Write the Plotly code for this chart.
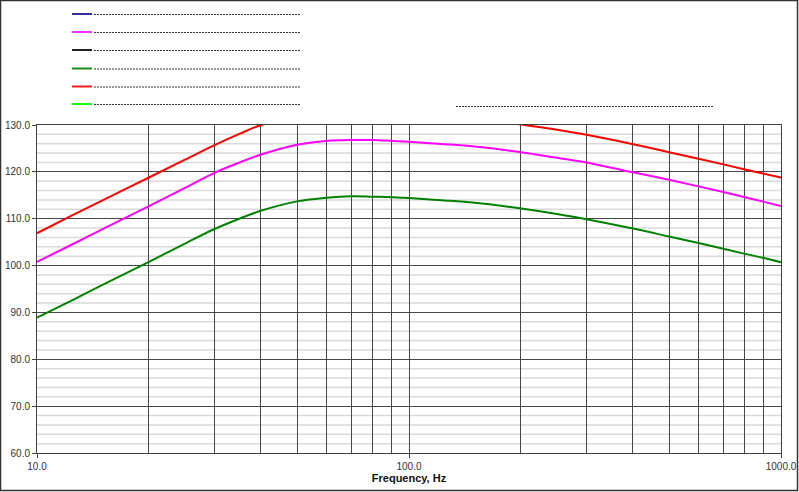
import plotly.graph_objects as go

# ---- data ----
freq_hz = [10, 12.5, 15, 20, 25, 30, 35, 40, 50, 60, 70, 80, 90, 100, 125, 150,
           200, 250, 300, 400, 500, 600, 700, 800, 900, 1000]
spl_red = [106.9, 110.8, 113.9, 118.8, 122.6, 125.7, 128.1, 130.0, 131.9, 132.7, 132.9,
           132.9, 132.7, 132.5, 132.0, 131.5, 130.1, 129.0, 127.9, 125.9, 124.2,
           122.8, 121.6, 120.5, 119.6, 118.8]
spl_magenta = [100.8, 104.6, 107.8, 112.7, 116.6, 119.8, 122.0, 123.7, 125.8, 126.6, 126.8,
               126.8, 126.6, 126.4, 125.9, 125.4, 124.2, 123.0, 122.0, 119.9, 118.3,
               116.9, 115.7, 114.6, 113.6, 112.7]
spl_green = [88.9, 92.7, 95.9, 100.8, 104.7, 107.8, 110.0, 111.7, 113.7, 114.5, 114.8,
             114.7, 114.6, 114.4, 113.9, 113.4, 112.2, 111.0, 109.9, 107.9, 106.2,
             104.8, 103.6, 102.5, 101.6, 100.7]

x_major_ticks = [10, 100, 1000]
x_major_labels = ["10.0", "100.0", "1000.0"]
x_grid_vals = [20, 30, 40, 50, 60, 70, 80, 90, 100, 200, 300, 400, 500, 600, 700, 800, 900]
y_range = [60, 130]
y_minor_vals = [v for v in range(62, 130, 2) if v % 10]
legend_colors = ["#2E3192", "#FF33FF", "#222222", "#1A8A1A", "#FF1A1A", "#1AFF1A"]

# ---- layout constants ----
W, H = 799, 492
ML, MR, MT, MB = 37, 18, 125, 39
PW, PH = W - ML - MR, H - MT - MB
GRID = "#474747"

def px_x(p):  # pixel -> paper x
    return (p - ML) / PW

def px_y(p):  # pixel -> paper y
    return 1 - (p - MT) / PH

fig = go.Figure()
for ys, col in [(spl_red, "#FF0000"), (spl_magenta, "#FF00FF"), (spl_green, "#008000")]:
    fig.add_trace(go.Scatter(x=freq_hz, y=ys, mode="lines",
                             line=dict(color=col, width=2, shape="spline", smoothing=1),
                             showlegend=False, hoverinfo="skip"))

shapes = []
# light horizontal minor grid, below the main grid lines
for v in y_minor_vals:
    shapes.append(dict(type="line", xref="paper", yref="y", x0=0, x1=1, y0=v, y1=v,
                       line=dict(color="#d9d9d9", width=1.5), layer="below"))
# legend-like decorations
leg_y = [14, 32, 50, 68.5, 86.5, 104]
for c, yy in zip(legend_colors, leg_y):
    shapes.append(dict(type="line", xref="paper", yref="paper",
                       x0=px_x(72), x1=px_x(92), y0=px_y(yy), y1=px_y(yy),
                       line=dict(color=c, width=2)))
    shapes.append(dict(type="line", xref="paper", yref="paper",
                       x0=px_x(94), x1=px_x(300), y0=px_y(yy + 0.5), y1=px_y(yy + 0.5),
                       line=dict(color="#333333", width=1, dash="2px,1px")))
shapes.append(dict(type="line", xref="paper", yref="paper",
                   x0=px_x(456), x1=px_x(714), y0=px_y(106.5), y1=px_y(106.5),
                   line=dict(color="#333333", width=1, dash="2px,1px")))
# outer frame
shapes.append(dict(type="rect", xref="paper", yref="paper",
                   x0=px_x(0.5), x1=px_x(797.5), y0=px_y(0.5), y1=px_y(490.5),
                   line=dict(color="#333333", width=1.5), layer="below"))

fig.update_layout(
    width=W, height=H,
    margin=dict(l=ML, r=MR, t=MT, b=MB, pad=0, autoexpand=False),
    paper_bgcolor="white", plot_bgcolor="rgba(0,0,0,0)",
    font=dict(family="Liberation Sans, Arial, sans-serif", size=10, color="#333333"),
    shapes=shapes,
    xaxis=dict(type="log", range=[1, 3], automargin=False,
               tickmode="array", tickvals=x_major_ticks, ticktext=x_major_labels,
               ticks="outside", ticklen=4, tickcolor="#404040",
               showgrid=True, gridcolor=GRID, gridwidth=1,
               minor=dict(tickmode="array", tickvals=x_grid_vals, showgrid=True,
                          gridcolor=GRID, gridwidth=1, ticks=""),
               showline=True, linecolor="#404040", linewidth=1, mirror=True,
               zeroline=False,
               title=dict(text="<b>Frequency, Hz</b>", standoff=3,
                          font=dict(size=11, color="#111111")),
               tickfont=dict(size=10, color="#333333")),
    yaxis=dict(range=y_range, automargin=False,
               tickmode="linear", tick0=60, dtick=10, tickformat=".1f",
               ticks="outside", ticklen=4, tickcolor="#404040",
               showgrid=True, gridcolor=GRID, gridwidth=1,
               showline=True, linecolor="#404040", linewidth=1, mirror=True,
               zeroline=False,
               tickfont=dict(size=10, color="#333333")),
)

fig.write_html("out.html", config={"displayModeBar": False},
               post_script="document.body.style.margin='0';")
